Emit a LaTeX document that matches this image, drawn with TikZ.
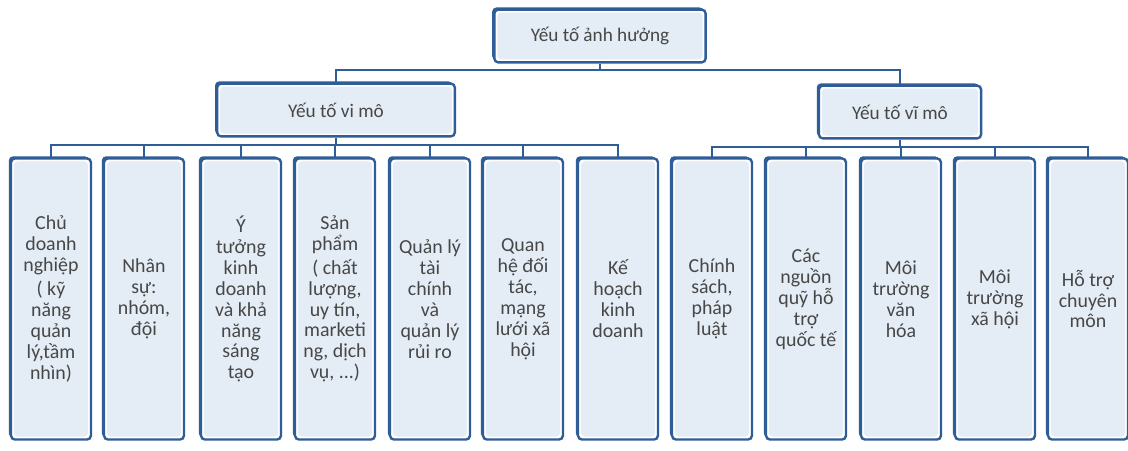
\documentclass[tikz,border=0pt]{standalone}
\usepackage{fontspec}
\setmainfont{Carlito}
\usetikzlibrary{shadows}

\definecolor{boxblue}{HTML}{2F5D98}
\definecolor{boxfill}{HTML}{E4ECF5}
\definecolor{txtgray}{HTML}{474747}

\tikzset{
  box/.style={rounded corners=3pt, draw=boxblue, line width=1.8pt, fill=white,
    drop shadow={shadow xshift=-1.6pt, shadow yshift=1.6pt, fill=boxblue, opacity=1},
    path picture={\fill[boxfill] ([shift={(2.2pt,2.2pt)}]path picture bounding box.south west)
      rectangle ([shift={(-2.2pt,-2.2pt)}]path picture bounding box.north east);},
    text=txtgray, align=center, inner sep=2pt},
  headbox/.style={box, minimum height=1.4cm, font=\fontsize{14.5}{16}\selectfont},
  leaf/.style={box, minimum width=2.12cm, minimum height=7.45cm,
    font=\fontsize{15}{15.8}\selectfont},
  conn/.style={boxblue, line width=1.6pt}
}

\begin{document}
\begin{tikzpicture}[x=0.0265cm,y=-0.0265cm]
\useasboundingbox (0,0) rectangle (1128,450);
\node[headbox, minimum width=5.6cm] (root) at (600,36) {Yếu tố ảnh hưởng};
\node[headbox, minimum width=6.3cm] (vimo) at (336,110) {Yếu tố vi mô};
\node[headbox, minimum width=4.3cm] (vimo2) at (900,112) {Yếu tố vĩ mô};

\node[leaf] (l1) at (51,299) {Chủ\\doanh\\nghiệp\\[2pt]( kỹ\\năng\\quản\\lý,tầm\\nhìn)};
\node[leaf] (l2) at (144,299) {Nhân\\sự:\\nhóm,\\đội};
\node[leaf] (l3) at (241,299) {Ý\\tưởng\\kinh\\doanh\\và khả\\năng\\sáng\\tạo};
\node[leaf] (l4) at (335,299) {Sản\\phẩm\\[2pt]( chất\\lượng,\\uy tín,\\marketi\\ng, dịch\\vụ, ...)};
\node[leaf] (l5) at (430,299) {Quản lý\\tài\\chính\\và\\quản lý\\rủi ro};
\node[leaf] (l6) at (523,299) {Quan\\hệ đối\\tác,\\mạng\\lưới xã\\hội};
\node[leaf] (l7) at (618,299) {Kế\\hoạch\\kinh\\doanh};
\node[leaf] (l8) at (712,299) {Chính\\sách,\\pháp\\luật};
\node[leaf] (l9) at (806,299) {Các\\nguồn\\quỹ hỗ\\trợ\\quốc tế};
\node[leaf] (l10) at (901,299) {Môi\\trường\\văn\\hóa};
\node[leaf] (l11) at (995,299) {Môi\\trường\\xã hội};
\node[leaf] (l12) at (1088,299) {Hỗ trợ\\chuyên\\môn};

\coordinate (topbar) at (600,70);
\coordinate (vibar) at (336,145);
\coordinate (vibar2) at (900,147);

\draw[conn] (root.south) -- (topbar);
\draw[conn] (vimo.north) |- (topbar);
\draw[conn] (vimo2.north) |- (topbar);
\draw[conn] (vimo.south) -- (vibar);
\draw[conn] (vimo2.south) -- (vibar2);
\foreach \n in {l1,l2,l3,l4,l5,l6,l7}
  \draw[conn] (\n.north) |- (vibar);
\foreach \n in {l8,l9,l10,l11,l12}
  \draw[conn] (\n.north) |- (vibar2);
\end{tikzpicture}
\end{document}
